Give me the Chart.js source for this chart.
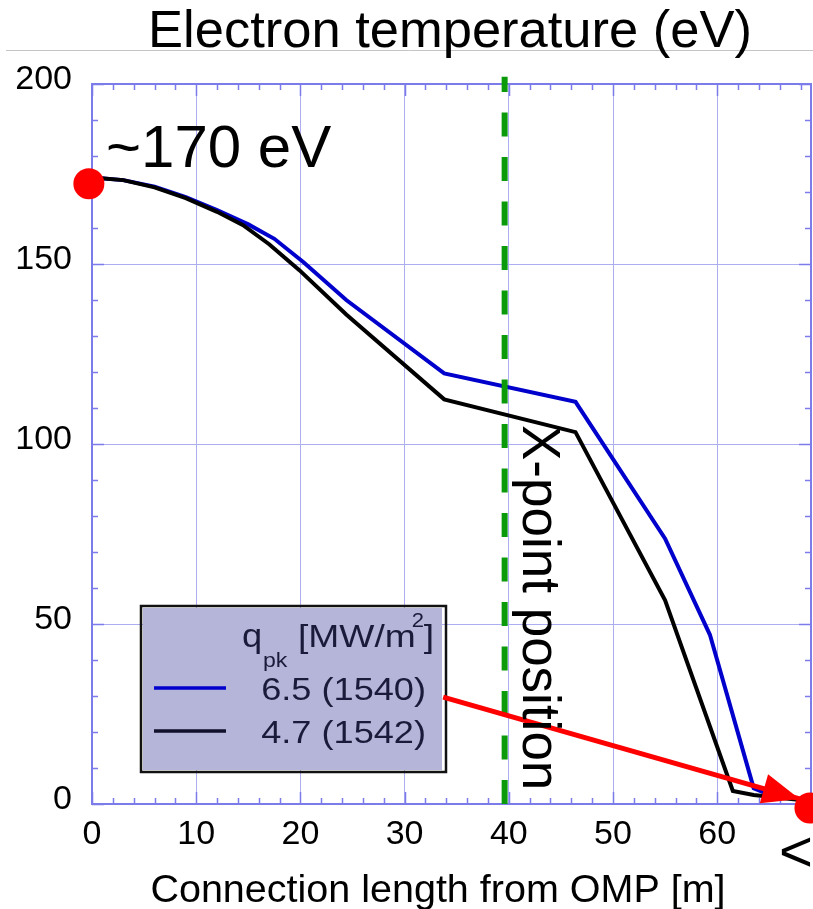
<!DOCTYPE html>
<html>
<head>
<meta charset="utf-8">
<title>Electron temperature</title>
<script src="https://cdn.jsdelivr.net/npm/chart.js@4.4.0/dist/chart.umd.min.js"></script>
<style>
  html, body { margin: 0; padding: 0; background: #fff; }
  #wrap { width: 813px; height: 909px; }
</style>
</head>
<body>
<div id="wrap"><canvas id="myChart" width="813" height="909"></canvas></div>
<script>
'use strict';
// values
const titleText = 'Electron temperature (eV)';
const xTitle = 'Connection length from OMP [m]';
const xTicks = [0, 10, 20, 30, 40, 50, 60];
const yTicks = [0, 50, 100, 150, 200];

const blueX = [0, 3, 6, 9, 12, 15, 17.5, 20.3, 24.4, 33.8, 46.4, 55.0, 59.3, 63.5, 65.5, 68.9];
const blueY = [174, 173.3, 171.5, 168.6, 165, 161, 157, 150.5, 140, 119.6, 111.7, 73.7, 47, 4.4, 2, 1.2];
const blackX = [0, 3, 6, 9, 12, 14.5, 17, 19.9, 24.4, 33.8, 46.4, 55.0, 61.5, 63.5, 68.9];
const blackY = [174, 173.3, 171.3, 168.3, 164.5, 160.8, 155.5, 148.3, 136, 112.4, 103.3, 56.6, 3.6, 2.5, 0.8];

const seriesLabels = ['6.5 (1540)', '4.7 (1542)'];
const seriesColors = ['#0000cc', '#000000'];

const xPointX = [39.6, 39.6];
const xPointY = [0, 202];
const dotX = [-0.3, 68.9];
const dotY = [172.3, -1.1];
const arrowX = [33.7, 67.9];
const arrowY = [29.7, 1.4];

const FONT = '"Liberation Sans", Arial, sans-serif';

function pts(xs, ys) {
  return xs.map((x, i) => ({x: x, y: ys[i]}));
}

// text stretched sideways like the legend in the picture
function wideText(ctx, txt, x, y, sx, align) {
  ctx.save();
  ctx.translate(x, y);
  ctx.scale(sx, 1);
  ctx.textAlign = align;
  ctx.fillText(txt, 0, 0);
  ctx.restore();
}

const decor = {
  id: 'decor',
  beforeDraw(chart) {
    let ctx = chart.ctx;
    ctx.save();
    ctx.fillStyle = '#fff';
    ctx.fillRect(0, 0, chart.width, chart.height);
    // thin grey rule under the title
    ctx.strokeStyle = '#c4c4c4';
    ctx.lineWidth = 1;
    ctx.beginPath();
    ctx.moveTo(6, 50.5);
    ctx.lineTo(chart.width, 50.5);
    ctx.stroke();
    ctx.fillStyle = '#000';
    ctx.font = '52.5px ' + FONT;
    ctx.textAlign = 'center';
    ctx.textBaseline = 'alphabetic';
    ctx.fillText(titleText, 450, 47);
    ctx.restore();
  },
  beforeDatasetsDraw(chart) {
    let ctx = chart.ctx;
    let xs = chart.scales.x, ys = chart.scales.y;
    let a = chart.chartArea;
    ctx.save();
    ctx.strokeStyle = '#7b7bea';
    ctx.lineWidth = 2;
    ctx.beginPath();
    ctx.moveTo(a.left, a.top);
    ctx.lineTo(a.right, a.top);
    ctx.lineTo(a.right, a.bottom);
    ctx.stroke();
    // inside tick marks on all four sides
    ctx.lineWidth = 1.5;
    ctx.beginPath();
    for (let v = 0; v <= xs.max; v += 2) {
      let p = Math.round(xs.getPixelForValue(v)) + 0.5;
      let len = v % 10 === 0 ? 12 : 6;
      ctx.moveTo(p, a.bottom); ctx.lineTo(p, a.bottom - len);
      ctx.moveTo(p, a.top); ctx.lineTo(p, a.top + len);
    }
    for (let v = 0; v <= ys.max; v += 10) {
      let p = Math.round(ys.getPixelForValue(v)) + 0.5;
      let len = v % 50 === 0 ? 12 : 6;
      ctx.moveTo(a.left, p); ctx.lineTo(a.left + len, p);
      ctx.moveTo(a.right, p); ctx.lineTo(a.right - len, p);
    }
    ctx.stroke();

    // legend box
    ctx.fillStyle = '#b5b5da';
    ctx.fillRect(143, 608, 299, 162);
    ctx.strokeStyle = '#111';
    ctx.lineWidth = 2.5;
    ctx.strokeRect(141, 606, 305, 166);
    ctx.fillStyle = '#1a1a3a';
    ctx.textBaseline = 'alphabetic';
    ctx.font = '33px ' + FONT;
    wideText(ctx, 'q', 242, 647, 1.1, 'left');
    ctx.font = '21px ' + FONT;
    wideText(ctx, 'pk', 263, 667, 1.1, 'left');
    ctx.font = '31px ' + FONT;
    wideText(ctx, '[MW/m', 298, 647, 1.2, 'left');
    let w = ctx.measureText('[MW/m').width * 1.2;
    ctx.font = '20px ' + FONT;
    wideText(ctx, '2', 298 + w - 4, 627, 1.1, 'left');
    ctx.font = '31px ' + FONT;
    wideText(ctx, ']', 298 + w + 8, 647, 1.2, 'left');
    ctx.font = '32px ' + FONT;
    let rows = [700, 743];
    for (let i = 0; i < seriesLabels.length; i++) {
      ctx.fillStyle = '#1a1a3a';
      wideText(ctx, seriesLabels[i], 426, rows[i], 1.13, 'right');
      ctx.strokeStyle = i === 0 ? seriesColors[0] : '#10102a';
      ctx.lineWidth = 3.5;
      ctx.beginPath();
      ctx.moveTo(154, rows[i] - 12);
      ctx.lineTo(226, rows[i] - 12);
      ctx.stroke();
    }
    ctx.restore();
  },
  afterDatasetsDraw(chart) {
    let ctx = chart.ctx;
    let xs = chart.scales.x, ys = chart.scales.y;
    ctx.save();
    // arrow head at the end of the red line
    let x0 = xs.getPixelForValue(arrowX[0]), y0 = ys.getPixelForValue(arrowY[0]);
    let x1 = xs.getPixelForValue(arrowX[1]), y1 = ys.getPixelForValue(arrowY[1]);
    let ang = Math.atan2(y1 - y0, x1 - x0);
    let hl = 37, hw = 15;
    ctx.fillStyle = '#ff0000';
    ctx.beginPath();
    ctx.moveTo(x1, y1);
    ctx.lineTo(x1 - hl * Math.cos(ang) - hw * Math.sin(ang), y1 - hl * Math.sin(ang) + hw * Math.cos(ang));
    ctx.lineTo(x1 - hl * Math.cos(ang) + hw * Math.sin(ang), y1 - hl * Math.sin(ang) - hw * Math.cos(ang));
    ctx.closePath();
    ctx.fill();

    ctx.fillStyle = '#000';
    ctx.textBaseline = 'alphabetic';
    ctx.textAlign = 'left';
    ctx.font = '60px ' + FONT;
    ctx.fillText('~170 eV', 106, 167);
    ctx.font = '58px ' + FONT;
    ctx.fillText('<', 779, 871);
    ctx.font = '39.5px ' + FONT;
    ctx.textAlign = 'center';
    ctx.fillText(xTitle, 438, 902);

    // rotated annotation beside the X-point line
    ctx.save();
    ctx.translate(523, 425);
    ctx.rotate(Math.PI / 2);
    ctx.textAlign = 'left';
    ctx.font = '53px ' + FONT;
    ctx.fillText('X-point position', 0, 0);
    ctx.restore();
    ctx.restore();
  }
};

let ctx = document.getElementById('myChart').getContext('2d');
let myChart = new Chart(ctx, {
  type: 'line',
  data: {
    datasets: [
      { // red dots, drawn on top
        data: pts(dotX, dotY),
        showLine: false,
        pointRadius: 15.5,
        pointBackgroundColor: '#ff0000',
        pointBorderWidth: 0,
        clip: false
      },
      {
        data: pts(arrowX, arrowY),
        borderColor: '#ff0000',
        borderWidth: 5,
        pointRadius: 0,
        clip: false
      },
      {
        data: pts(xPointX, xPointY),
        borderColor: '#0a9a0a',
        borderWidth: 6,
        borderDash: [24, 20.5],
        pointRadius: 0,
        clip: false
      },
      {
        label: seriesLabels[1],
        data: pts(blackX, blackY),
        borderColor: seriesColors[1],
        borderWidth: 4,
        pointRadius: 0,
        tension: 0
      },
      {
        label: seriesLabels[0],
        data: pts(blueX, blueY),
        borderColor: seriesColors[0],
        borderWidth: 4,
        pointRadius: 0,
        tension: 0
      }
    ]
  },
  options: {
    responsive: false,
    animation: false,
    events: [],
    layout: { autoPadding: false, padding: { top: 84, right: 2, left: 0, bottom: 0 } },
    plugins: { legend: { display: false }, title: { display: false }, tooltip: { enabled: false } },
    scales: {
      x: {
        type: 'linear',
        min: 0,
        max: 69,
        afterFit(scale) {
          scale.height = 105;
          scale.paddingLeft = 0;
          scale.paddingRight = 0;
        },
        afterBuildTicks(scale) { scale.ticks = xTicks.map(v => ({value: v})); },
        ticks: { padding: 10, color: '#000', font: { family: FONT, size: 34 } },
        grid: { color: '#adadf2', lineWidth: 1, drawTicks: false },
        border: { display: true, color: '#7b7bea', width: 2 }
      },
      y: {
        min: 0,
        max: 200,
        afterFit(scale) {
          scale.width = 92;
          scale.paddingTop = 0;
          scale.paddingBottom = 0;
        },
        afterBuildTicks(scale) { scale.ticks = yTicks.map(v => ({value: v})); },
        ticks: { padding: 20, labelOffset: -4, color: '#000', font: { family: FONT, size: 34 } },
        grid: { color: '#adadf2', lineWidth: 1, drawTicks: false },
        border: { display: true, color: '#7b7bea', width: 2 }
      }
    }
  },
  plugins: [decor]
});
</script>
</body>
</html>
